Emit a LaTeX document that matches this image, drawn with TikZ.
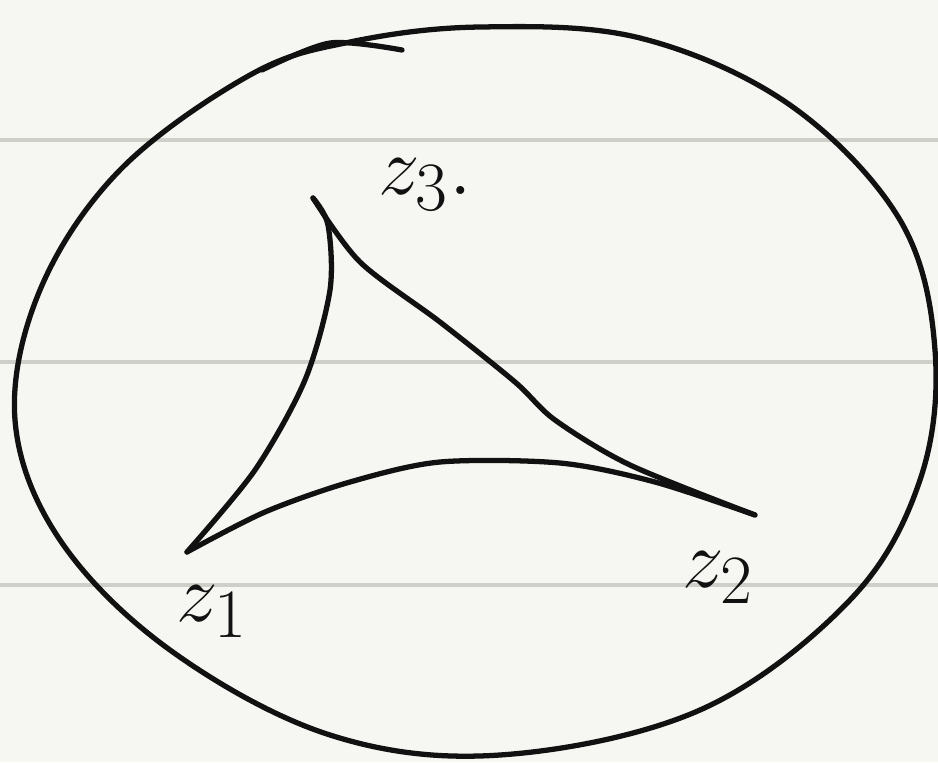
\documentclass[tikz,border=0pt]{standalone}
\usepackage{graphicx}
\usepackage{tikz}
\usetikzlibrary{calc,positioning}
\definecolor{paper}{HTML}{F6F7F2}
\definecolor{ruleline}{HTML}{CFCFCA}
\definecolor{ink}{HTML}{111111}
\newcommand{\biglabel}[1]{\scalebox{1.9}{\Huge $#1$}}
\tikzset{
  pen/.style={ink, line width=3pt, line cap=round, line join=round},
  vlabel/.style={ink, inner sep=0pt},
}
\begin{document}
\begin{tikzpicture}[x=0.02cm, y=-0.02cm]
  \fill[paper] (0,0) rectangle (938,762);
  \useasboundingbox (0,0) rectangle (938,762);

  % ruled lines
  \foreach \yy in {140,362,585}
    \draw[ruleline, line width=2.4pt] (0,\yy) -- (938,\yy);

  % disk boundary
  \draw[pen] plot[smooth cycle, tension=0.6] coordinates {
    (480,27) (640,38) (790,105) (900,220) (935,350) (920,480) (850,600)
    (700,710) (500,755) (330,735) (170,650) (60,540) (15,420) (40,290)
    (120,170) (250,75) (350,42)};
  \draw[pen] plot[smooth] coordinates {(262,70) (330,43) (402,50)};

  % vertices
  \coordinate (z3) at (313,198);
  \coordinate (z1) at (187,552);
  \coordinate (z2) at (755,515);

  % geodesic sides
  \draw[pen] plot[smooth] coordinates {(z3) (328,225) (330,290) (305,380) (255,470) (z1)};
  \draw[pen] plot[smooth] coordinates {(z3) (360,262) (440,322) (515,382) (555,420) (630,465) (z2)};
  \draw[pen] plot[smooth] coordinates {(z1) (265,512) (350,482) (440,462) (560,463) (655,482) (z2)};

  % labels
  \node[vlabel] (l3) at (425,185) {\biglabel{z_3.}};
  \node[vlabel] (l1) at (212,612) {\biglabel{z_1}};
  \node[vlabel] (l2) at (718,578) {\biglabel{z_2}};
\end{tikzpicture}
\end{document}
